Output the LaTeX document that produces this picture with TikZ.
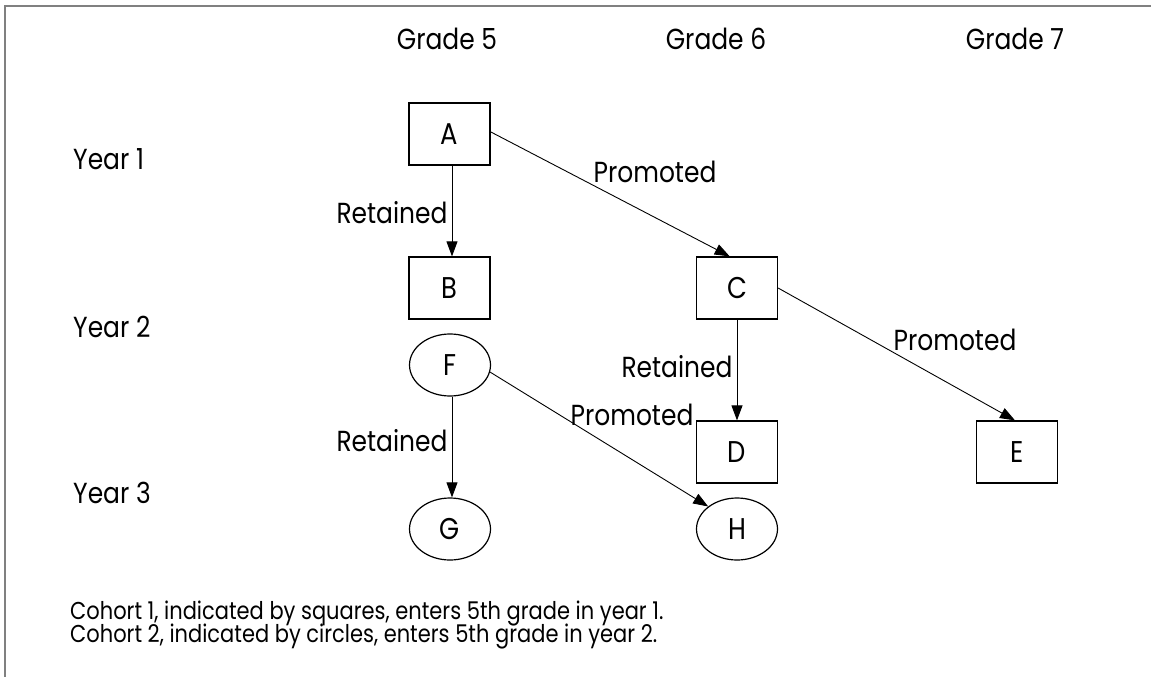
\documentclass[tikz,border=0pt]{standalone}
\usepackage{fontspec}
\setmainfont{Poppins}[FakeStretch=0.86]
\usetikzlibrary{arrows.meta,shapes.geometric}
\begin{document}
\begin{tikzpicture}[x=1pt,y=-1pt,
  txt/.style={font=\fontsize{29}{34}\selectfont, inner sep=0pt},
  boxnode/.style={draw, line width=1.2pt, minimum width=81pt, minimum height=62pt, inner sep=0pt, font=\fontsize{30}{34}\selectfont},
  ellnode/.style={draw, ellipse, line width=1.2pt, minimum width=81pt, minimum height=62pt, inner sep=0pt, font=\fontsize{30}{34}\selectfont},
  conn/.style={line width=0.9pt, -{Triangle[length=15pt,width=11pt]}},
  frame/.style={draw=black!50, line width=1.5pt}]
\useasboundingbox (0,0) rectangle (1151,677);
\draw[frame] (5,677) -- (5,6) -- (1151,6);
% headers
\node[txt] (g5) at (447,39) {Grade 5};
\node[txt] (g6) at (716,39) {Grade 6};
\node[txt] (g7) at (1015,39) {Grade 7};
\node[txt, anchor=base west] (y1) at (73,169) {Year 1};
\node[txt, anchor=base west] (y2) at (73,337) {Year 2};
\node[txt, anchor=base west] (y3) at (73,503) {Year 3};
% nodes
\node[boxnode] (A) at (449.5,134) {A};
\node[boxnode] (B) at (449.5,288) {B};
\node[boxnode] (C) at (737,288) {C};
\node[boxnode] (D) at (737,452) {D};
\node[boxnode] (E) at (1017,452) {E};
\node[ellnode] (F) at (450,365) {F};
\node[ellnode] (G) at (450,529) {G};
\node[ellnode] (H) at (737,529) {H};
% connectors
\draw[conn] ([xshift=2.5pt]A.south) -- ([xshift=2.5pt]B.north);
\draw[conn] (A.3) -- (C.103);
\draw[conn] (C.south) -- (D.north);
\draw[conn] (C.east) -- ([xshift=-2pt]E.north);
\draw[conn] ([xshift=2pt]F.south) -- ([xshift=2pt]G.north);
\draw[conn] (F.-10) -- (H.142);
% labels
\node[txt] (lAB) at (392,213) {Retained};
\node[txt] (lAC) at (655,172) {Promoted};
\node[txt] (lCD) at (677,367) {Retained};
\node[txt] (lCE) at (955,340) {Promoted};
\node[txt] (lFG) at (392,441) {Retained};
\node[txt] (lFH) at (632,415) {Promoted};
% notes
\node[txt, anchor=base west, font=\fontsize{24.4}{27}\selectfont] (n1) at (70,619) {Cohort 1, indicated by squares, enters 5th grade in year 1.};
\node[txt, anchor=base west, font=\fontsize{24.4}{27}\selectfont] (n2) at (70,642) {Cohort 2, indicated by circles, enters 5th grade in year 2.};
\end{tikzpicture}
\end{document}
